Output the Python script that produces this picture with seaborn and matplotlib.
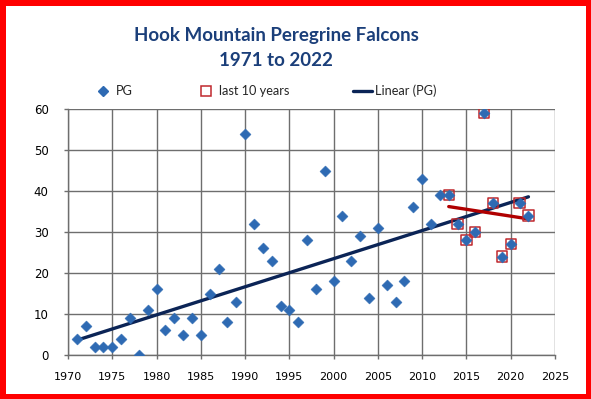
import numpy as np
import pandas as pd
import matplotlib
matplotlib.use("Agg")
import matplotlib.pyplot as plt
import seaborn as sns
from matplotlib.lines import Line2D

# ---- data ----
years = list(range(1971, 2023))
pg = [4, 7, 2, 2, 2, 4, 9, 0, 11, 16,
      6, 9, 5, 9, 5, 15, 21, 8, 13, 54,
      32, 26, 23, 12, 11, 8, 28, 16, 45, 18,
      34, 23, 29, 14, 31, 17, 13, 18, 36, 43,
      32, 39, 39, 32, 28, 30, 59, 37, 24, 27, 37, 34]
recent_years = years[-10:]
recent_pg = pg[-10:]
xticks = list(range(1970, 2030, 5))
yticks = list(range(0, 70, 10))
title_line1 = "Hook Mountain Peregrine Falcons"
title_line2 = "1971 to 2022"
legend_labels = ["PG", "last 10 years", "Linear (PG)"]

df_all = pd.DataFrame({"year": years, "pg": pg})
df_recent = pd.DataFrame({"year": recent_years, "pg": recent_pg})

BLUE = "#2E6AB3"
NAVY = "#0B2456"
RED_SQ = "#C0282D"
RED_LINE = "#B00000"
TITLE_C = "#1B3F7A"
GRID_C = "#6E6E6E"

sns.set_style("whitegrid", {"grid.color": GRID_C, "axes.edgecolor": GRID_C,
                            "grid.linestyle": "-"})
plt.rcParams["font.family"] = ["DejaVu Sans"]
plt.rcParams["grid.linewidth"] = 1.0

fig = plt.figure(figsize=(5.91, 3.99), dpi=100, facecolor="white",
                 edgecolor="#FF0000", linewidth=6.5)
ax = fig.add_axes([68 / 591, 1 - 355 / 399, (555 - 68) / 591, (355 - 109) / 399])

# trend lines
sns.regplot(data=df_all, x="year", y="pg", scatter=False, ci=None, truncate=True,
            color=NAVY, line_kws={"lw": 2.4, "zorder": 3}, ax=ax)
sns.regplot(data=df_recent, x="year", y="pg", scatter=False, ci=None, truncate=True,
            color=RED_LINE, line_kws={"lw": 2.4, "zorder": 3}, ax=ax)

# last 10 years squares
sns.scatterplot(data=df_recent, x="year", y="pg", marker="s", s=55,
                facecolor="none", edgecolor=RED_SQ, linewidth=1.1, zorder=4, ax=ax)
# PG diamonds
sns.scatterplot(data=df_all, x="year", y="pg", marker="D", s=32,
                color=BLUE, edgecolor=BLUE, linewidth=0.3, zorder=5, ax=ax)

ax.set_xlim(1970, 2025)
ax.set_ylim(0, 60)
ax.set_xticks(xticks)
ax.set_yticks(yticks)
ax.set_xlabel("")
ax.set_ylabel("")
for s in ["top", "right"]:
    ax.spines[s].set_visible(False)
for s in ["left", "bottom"]:
    ax.spines[s].set_color(GRID_C)
    ax.spines[s].set_linewidth(1.0)
ax.grid(True, color=GRID_C, linewidth=1.0)
ax.set_axisbelow(True)
ax.tick_params(axis="x", direction="out", length=3, width=1.0, color=GRID_C,
               pad=9, labelsize=8, labelcolor="black")
ax.tick_params(axis="y", direction="out", length=3, width=1.0, color=GRID_C,
               pad=11, labelsize=8.5, labelcolor="black")
ax.tick_params(bottom=True, left=True)

# titles
fig.text(0.467, 1 - 41 / 399, title_line1, ha="center", va="baseline",
         fontsize=13.5, fontweight="bold", color=TITLE_C, family=["Lato", "DejaVu Sans"])
fig.text(0.467, 1 - 66 / 399, title_line2, ha="center", va="baseline",
         fontsize=13.5, fontweight="bold", color=TITLE_C, family=["Lato", "DejaVu Sans"])

# legend
handles = [
    Line2D([], [], marker="D", ls="none", color=BLUE, markersize=5.5),
    Line2D([], [], marker="s", ls="none", mfc="none", mec=RED_SQ, mew=1.1, markersize=7.5),
    Line2D([], [], color=NAVY, lw=2.4),
]
ax.legend(handles, legend_labels, ncol=3, loc="center",
          bbox_to_anchor=(265 / 591, 1 - 91 / 399), bbox_transform=fig.transFigure,
          frameon=False, handlelength=1.5, handletextpad=0.25, columnspacing=5.0,
          prop={"family": ["Lato", "DejaVu Sans"], "size": 9.2})

fig.savefig("out.png", dpi=100, facecolor="white", edgecolor="#FF0000")
